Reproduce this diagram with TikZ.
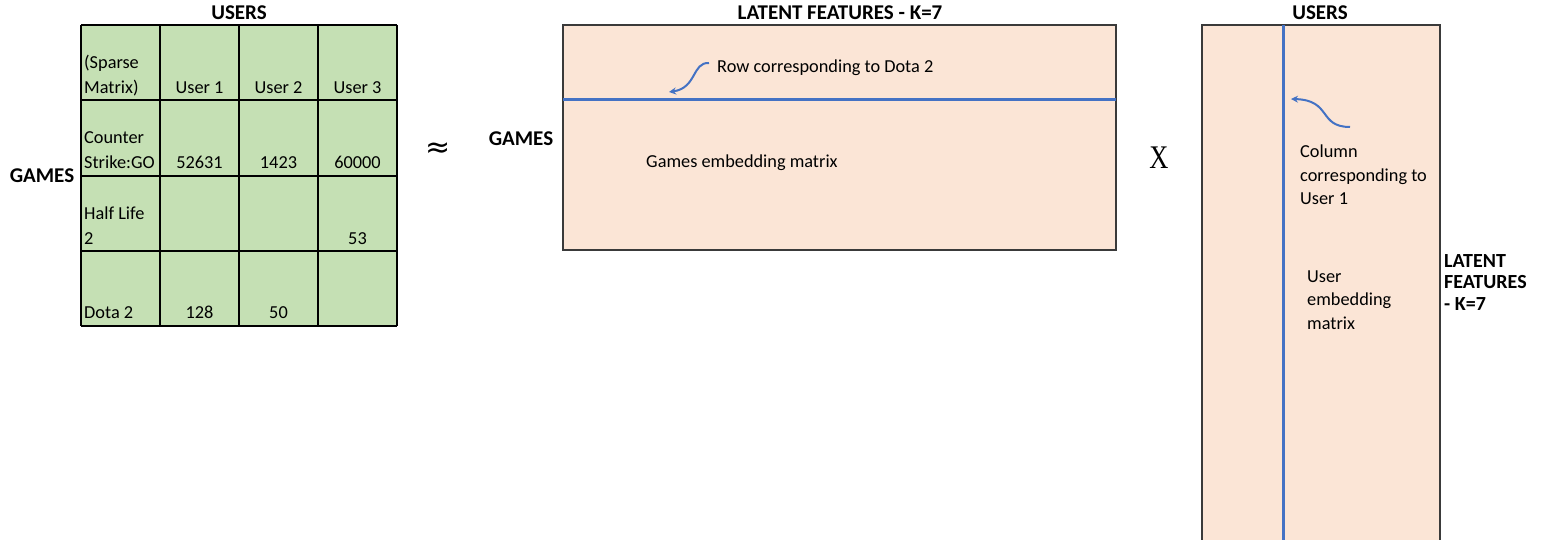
\documentclass[tikz,border=0pt]{standalone}
\usepackage{fontspec}
\setmainfont{Carlito}
\newfontfamily\xserif{Liberation Serif}
\newfontfamily\symfont{DejaVu Sans}
\usetikzlibrary{arrows.meta}
\definecolor{cellgreen}{HTML}{C5E0B4}
\definecolor{matpink}{HTML}{FBE5D6}
\definecolor{lineblue}{HTML}{4472C4}
\definecolor{edgegray}{HTML}{3A3A3A}
\tikzset{
  body/.style={inner sep=0pt, font=\fontsize{18.3}{25.5}\selectfont},
  bodyl/.style={body, align=left, anchor=base west},
  num/.style={body, anchor=base},
  title/.style={inner sep=0pt, font=\fontsize{21}{21}\selectfont\bfseries},
  sidetitle/.style={inner sep=0pt, align=left, anchor=base west, font=\fontsize{20}{21.5}\selectfont\bfseries},
  note/.style={inner sep=0pt, align=left, anchor=base west, font=\fontsize{18.3}{23.5}\selectfont},
  gridline/.style={draw=black, line width=1.4pt},
  matbox/.style={fill=matpink, draw=edgegray, line width=1.3pt},
  blueline/.style={draw=lineblue, line width=3pt},
  bluearrow/.style={draw=lineblue, line width=2pt, -{Stealth[length=7pt,width=7pt]}}
}
\begin{document}
\begin{tikzpicture}[x=1pt,y=-1pt]
\useasboundingbox (0,0) rectangle (1543,540);
\clip (0,0) rectangle (1543,540);
% ---------- sparse matrix (table) ----------
\fill[cellgreen] (81,25) rectangle (397,326);
\foreach \xx in {81,160,239,318,397} \draw[gridline] (\xx,25) -- (\xx,326);
\foreach \yy in {25,100,176,251,326} \draw[gridline] (81,\yy) -- (397,\yy);
\node[title] (usersA) at (239,13) {USERS};
\node[title] (gamesA) at (42,176) {GAMES};
% row 1
\node[bodyl] (c11) at (84,94) {(Sparse\\Matrix)};
\node[num] (c12) at (199.5,94) {User 1};
\node[num] (c13) at (278.5,94) {User 2};
\node[num] (c14) at (357.5,94) {User 3};
% row 2
\node[bodyl] (c21) at (84,169) {Counter\\Strike:GO};
\node[num] (c22) at (199.5,169) {52631};
\node[num] (c23) at (278.5,169) {1423};
\node[num] (c24) at (357.5,169) {60000};
% row 3
\node[bodyl] (c31) at (84,245) {Half Life\\2};
\node[num] (c34) at (357.5,245) {53};
% row 4
\node[bodyl] (c41) at (84,319) {Dota 2};
\node[num] (c42) at (199.5,319) {128};
\node[num] (c43) at (278.5,319) {50};
% ---------- approx ----------
\node[inner sep=0pt, font=\symfont\fontsize{30}{30}\selectfont] (approx) at (438,150) {≈};
% ---------- games embedding matrix ----------
\node[title] (gamesB) at (521,139) {GAMES};
\node[title] (latentA) at (840,13) {LATENT FEATURES - K=7};
\draw[matbox] (563,25) rectangle (1116,250);
\coordinate (rowL) at (563,100);
\coordinate (rowR) at (1116,100);
\draw[blueline] (rowL) -- (rowR);
\node[note, anchor=west] (rownote) at (717,68) {Row corresponding to Dota 2};
\coordinate (rowtip) at (669,92);
\draw[bluearrow] ([xshift=-8pt,yshift=5pt]rownote.west) .. controls (692,62) and (697,88) .. (rowtip);
\node[note, anchor=west] (gamesemb) at (646,163) {Games embedding matrix};
% ---------- times ----------
\node[inner sep=0pt] (times) at (1159,158) {\scalebox{0.8}[1]{\xserif\fontsize{33}{33}\selectfont X}};
% ---------- user embedding matrix ----------
\node[title] (usersB) at (1320,13) {USERS};
\draw[matbox] (1202,25) rectangle (1440,560);
\coordinate (colT) at (1283.5,25);
\coordinate (colB) at (1283.5,560);
\draw[blueline] (colT) -- (colB);
\node[note] (colnote) at (1300,205) {Column\\corresponding to\\User 1};
\coordinate (colstart) at (1350,127);
\coordinate (coltip) at (1291,99);
\draw[bluearrow] (colstart) .. controls (1318,127) and (1332,100) .. (coltip);
\node[note] (useremb) at (1307,329) {User\\embedding\\matrix};
\node[sidetitle] (latentB) at (1444,310) {LATENT\\FEATURES\\- K=7};
\end{tikzpicture}
\end{document}
